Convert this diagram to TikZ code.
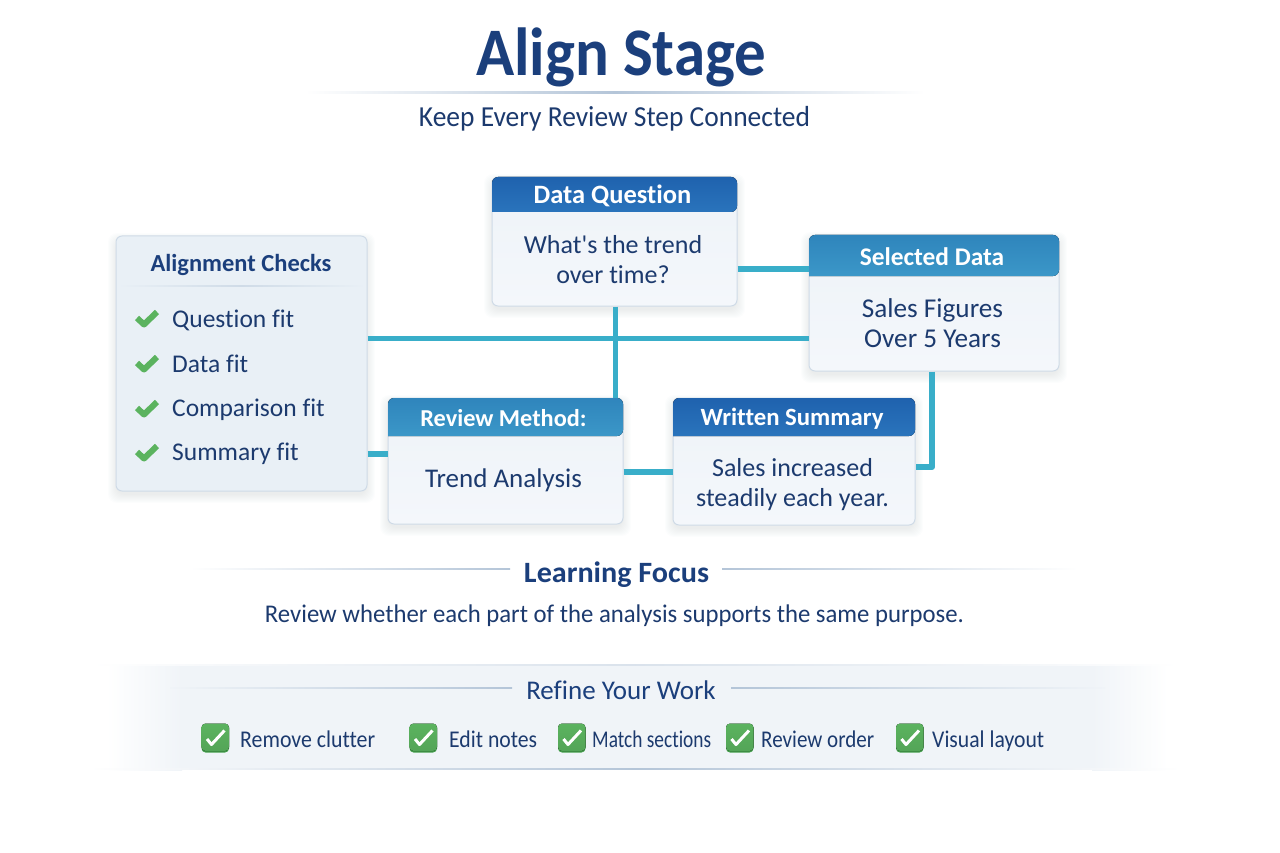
\documentclass[tikz,border=0pt]{standalone}
\usepackage{graphicx}
\usepackage{fontspec}
\setmainfont[Ligatures={NoCommon}]{Carlito}
\newfontfamily\plainfam{Carlito}
\usetikzlibrary{calc}
\definecolor{ink}{HTML}{1C3A6E}
\definecolor{inkb}{HTML}{1B3F7C}
\definecolor{conn}{HTML}{39AEC9}
\definecolor{cardtop}{HTML}{EEF3F8}
\definecolor{cardbot}{HTML}{F4F7FB}
\definecolor{checkcard}{HTML}{E9F0F6}
\definecolor{cardline}{HTML}{CFDBE7}
\definecolor{rule}{HTML}{B4C5D8}
\definecolor{bandc}{HTML}{F0F4F8}
\definecolor{deepA}{HTML}{1F62AE}
\definecolor{deepB}{HTML}{2A74BC}
\definecolor{midA}{HTML}{2F85BC}
\definecolor{midB}{HTML}{3B97C8}
\definecolor{okgreen}{HTML}{5BB35F}
\definecolor{okdark}{HTML}{439E4B}
\definecolor{shadowc}{HTML}{4F7398}
\newcommand{\fitw}[2]{\resizebox{#1pt}{\height}{#2}}
\tikzset{
  x=1pt,y=-1pt,
  txt/.style={inner sep=0pt,text=ink,font=\fontsize{26}{29.5}\selectfont,align=center},
  headtxt/.style={inner sep=0pt,text=white},
  item/.style={inner sep=0pt,anchor=base west,text=ink,font=\fontsize{25.5}{30}\selectfont},
  tick/.style={inner sep=0pt,anchor=base west,text=ink,font=\fontsize{24}{28}\selectfont},
  link/.style={draw=conn,line width=5pt},
  fadedrule/.style={left color=white,right color=white,middle color=rule},
  lrule/.style={left color=#1,right color=rule},
  rrule/.style={left color=rule,right color=#1},
  cardrule/.style={left color=checkcard,right color=checkcard,middle color=cardline},
}
% soft shadow under a card
\newcommand{\softshadow}[4]{%
  \foreach \g in {8,7,6,5,4,3,2,1,0}{%
    \fill[shadowc,opacity=0.012,rounded corners=9pt]
      (#1-\g,#2-\g+5) rectangle (#3+\g,#4+\g+4);}}
% card: name x0 y0 x1 y1 yhead colA colB head
\newcommand{\flowcard}[9]{%
  \softshadow{#2}{#3}{#4}{#5}%
  \node[draw=cardline,line width=1pt,rounded corners=6pt,inner sep=0pt,
        top color=cardtop,bottom color=cardbot,
        minimum width=#4pt-#2pt,minimum height=#5pt-#3pt]
        (#1) at ({(#2+#4)/2},{(#3+#5)/2}) {};
  \fill[top color=#7,bottom color=#8,rounded corners=6pt]
     (#2,#6) -- (#2,#3) -- (#4,#3) -- (#4,#6) [sharp corners] -- cycle;
  \node[headtxt] (#1h) at ({(#2+#4)/2-2},{(#3+#6)/2+1.5}) {#9};
}
\newcommand{\tickbox}[2]{%
  \fill[okdark,rounded corners=4pt] (#1,#2-14) rectangle (#1+27.5,#2+14.5);
  \fill[top color=okgreen,bottom color=okgreen!92!black,rounded corners=4pt] (#1,#2-14.5) rectangle (#1+27.5,#2+13);
  \draw[white,line width=3pt,line join=round]
     (#1+5.5,#2+1) -- (#1+10,#2+6.5) -- (#1+23,#2-7.5);
}
\newcommand{\greencheck}[2]{%
  \draw[okgreen,line width=6pt,line join=round]
     (#1,#2-1) -- (#1+7,#2+5.5) -- (#1+20,#2-7);
}
\begin{document}
\begin{tikzpicture}
\useasboundingbox (0,0) rectangle (1280,853);
\fill[white] (0,0) rectangle (1280,853);

% title
\node[inner sep=0pt,text=inkb,font=\fontsize{68}{72}\bfseries\selectfont] (title) at (621,57) {\fitw{290}{Align Stage}};
\shade[fadedrule] (305,92) rectangle (925,93.5);
\node[txt,font=\fontsize{29}{34}\selectfont] (subtitle) at (614.5,119) {\fitw{391}{Keep Every Review Step Connected}};

% alignment checks card
\softshadow{116}{236}{367}{491}
\node[draw=cardline,line width=1pt,rounded corners=6pt,inner sep=0pt,fill=checkcard,
      minimum width=251pt,minimum height=255pt] (checks) at (241.5,363.5) {};
\node[inner sep=0pt,text=inkb,font=\fontsize{24.5}{28}\bfseries\selectfont] (checkshead) at (241,264.5) {Alignment Checks};
\shade[cardrule] (118,285) rectangle (365,286);
\greencheck{137}{319}
\node[item] (i1) at (172,327) {Question fit};
\greencheck{137}{364}
\node[item] (i2) at (172,372) {Data fit};
\greencheck{137}{409}
\node[item] (i3) at (172,416.5) {Comparison fit};
\greencheck{137}{453}
\node[item] (i4) at (172,460.5) {Summary fit};

% flow cards
\flowcard{question}{492}{177}{737}{306}{212}{deepA}{deepB}{\bfseries\fontsize{26.5}{30}\selectfont Data Question}
\node[txt] (questionb) at (613,259.5) {What{\plainfam 's} the trend\\over time?};
\flowcard{selected}{809}{235}{1059}{371}{276}{midA}{midB}{\bfseries\fontsize{25.4}{30}\selectfont Selected Data}
\node[txt,font=\fontsize{27.2}{29.5}\selectfont] (selectedb) at (932.5,323) {Sales Figures\\Over 5 Years};
\flowcard{review}{388}{398}{623}{524}{436}{midA}{midB}{\bfseries\fontsize{24.3}{30}\selectfont Review Method:}
\node[txt,font=\fontsize{27}{30.5}\selectfont] (reviewb) at (503.5,480) {Trend Analysis};
\flowcard{summary}{673}{398}{915}{525}{436}{deepA}{deepB}{\bfseries\fontsize{24.8}{30}\selectfont Written Summary}
\node[txt] (summaryb) at (792.5,484.5) {Sales increased\\steadily each year.};

% connectors
\draw[link] (checks.east |- 0,338) -- (selected.west |- 0,338);
\draw[link] (question.south -| 615,0) -- (review.north -| 615,0);
\draw[link] (question.east |- 0,269) -- (selected.west |- 0,269);
\draw[link,line width=6pt] (checks.east |- 0,453.5) -- (review.west |- 0,453.5);
\draw[link,line width=6pt] (review.east |- 0,471.5) -- (summary.west |- 0,471.5);
\draw[link,line width=6pt,line join=round] (selected.south -| 932,0) |- (summary.east |- 0,467);

% learning focus
\shade[lrule=white] (190,568) rectangle (510,569.2);
\shade[rrule=white] (722,568) rectangle (1078,569.2);
\node[inner sep=0pt,text=inkb,font=\fontsize{29.5}{32}\bfseries\selectfont] (focus) at (616.5,574.5) {\fitw{185}{Learning Focus}};
\node[txt,font=\fontsize{25.5}{30}\selectfont] (focusb) at (614.5,615.5) {\fitw{699}{Review whether each part of the analysis supports the same purpose.}};

% refine band
\shade[left color=white,right color=bandc] (106,665) rectangle (182,770);
\fill[bandc] (182,665) rectangle (1092,770);
\shade[left color=bandc,right color=white] (1092,665) rectangle (1168,770);
\shade[left color=white,right color=white,middle color=rule!50!white] (90,664) rectangle (1180,665);
\shade[fadedrule] (90,768) rectangle (1180,769.5);
\shade[lrule=bandc] (170,687) rectangle (512,688.2);
\shade[rrule=bandc] (731,687) rectangle (1105,688.2);
\node[inner sep=0pt,text=inkb,font=\fontsize{27}{32}\selectfont] (refine) at (621,690) {Refine Your Work};

\tickbox{201.5}{738}
\node[tick] (t1) at (240,747) {\fitw{135}{Remove clutter}};
\tickbox{409.5}{738}
\node[tick] (t2) at (449,747) {\fitw{88}{Edit notes}};
\tickbox{558}{738}
\node[tick] (t3) at (592,747) {\fitw{119}{Match sections}};
\tickbox{726}{738}
\node[tick] (t4) at (761,747) {\fitw{113}{Review order}};
\tickbox{896}{738}
\node[tick] (t5) at (932,747) {\fitw{112}{Visual layout}};
\end{tikzpicture}
\end{document}
